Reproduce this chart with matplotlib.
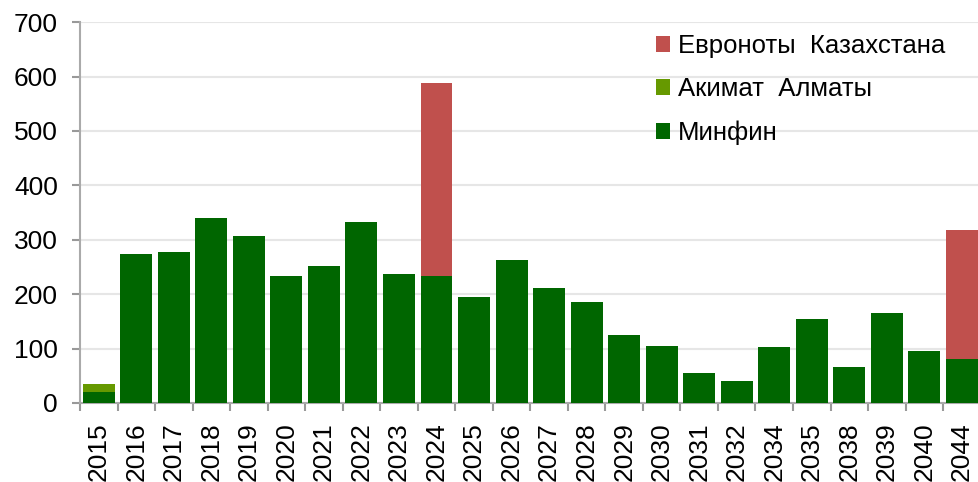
import numpy as np
import matplotlib.pyplot as plt

plt.rcParams['font.family'] = ['Liberation Sans', 'DejaVu Sans']

# Years of redemption
years = ['2015', '2016', '2017', '2018', '2019', '2020', '2021', '2022',
         '2023', '2024', '2025', '2026', '2027', '2028', '2029', '2030',
         '2031', '2032', '2034', '2035', '2038', '2039', '2040', '2044']

# Минфин
minfin = [20, 274, 277, 340, 307, 233, 252, 333, 237, 233, 194, 263,
          211, 186, 124, 105, 55, 40, 102, 154, 66, 165, 95, 80]
# Акимат Алматы
akimat = [15, 0, 0, 0, 0, 0, 0, 0, 0, 0, 0, 0,
          0, 0, 0, 0, 0, 0, 0, 0, 0, 0, 0, 0]
# Евроноты Казахстана
euronotes = [0, 0, 0, 0, 0, 0, 0, 0, 0, 356, 0, 0,
             0, 0, 0, 0, 0, 0, 0, 0, 0, 0, 0, 238]

x = np.arange(len(years))
minfin = np.array(minfin)
akimat = np.array(akimat)
euronotes = np.array(euronotes)

fig = plt.figure(figsize=(9.79, 4.82), dpi=100)
ax = fig.add_axes([0.0817, 0.164, 0.92, 0.79])

w = 0.85
b1 = ax.bar(x, minfin, w, color='#006600', label='Минфин', zorder=3)
b2 = ax.bar(x, akimat, w, bottom=minfin, color='#669900', label='Акимат  Алматы', zorder=3)
b3 = ax.bar(x, euronotes, w, bottom=minfin + akimat, color='#C0504D',
            label='Евроноты  Казахстана', zorder=3)

ax.set_xlim(-0.5, len(years) - 0.5)
ax.set_ylim(0, 700)
ax.set_yticks(range(0, 701, 100))
ax.yaxis.grid(True, color='#e6e6e6', linewidth=1.5, zorder=0)

ax.set_xticks(x)
ax.set_xticklabels(years, rotation=90)
ax.set_xticks(np.arange(-0.5, len(years)), minor=True)
ax.tick_params(axis='x', which='major', length=0, pad=14, labelsize=19)
ax.tick_params(axis='x', which='minor', length=6, width=1.5, color='#999999')
ax.tick_params(axis='y', length=6, width=1.5, color='#999999', labelsize=19, pad=10)

for s in ['top', 'right']:
    ax.spines[s].set_visible(False)
for s in ['left', 'bottom']:
    ax.spines[s].set_color('#aaaaaa')
    ax.spines[s].set_linewidth(1.5)

handles = [b3, b2, b1]
ax.legend(handles, [h.get_label() for h in handles], loc='upper left',
          bbox_to_anchor=(0.614, 1.03), frameon=False, fontsize=18.5,
          handlelength=0.55, handleheight=0.55, handletextpad=0.3,
          labelspacing=0.75)

fig.savefig('out.png', dpi=100)
